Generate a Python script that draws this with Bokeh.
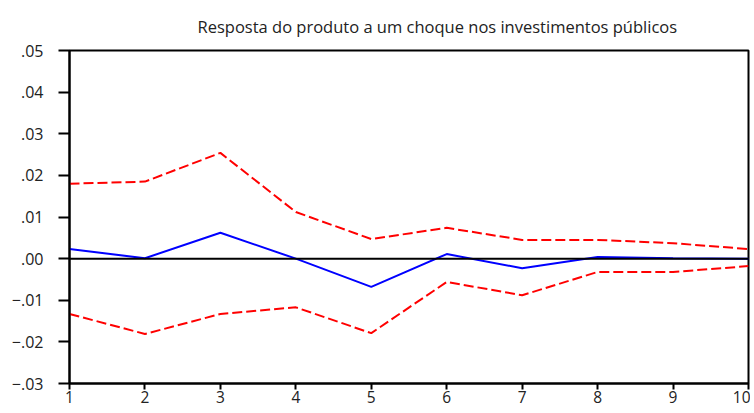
from bokeh.plotting import figure
from bokeh.models import Range1d, FixedTicker, Span, Title
from bokeh.embed import file_html
from bokeh.resources import INLINE

periods = [1, 2, 3, 4, 5, 6, 7, 8, 9, 10]
response = [0.0023, 0.0001, 0.0062, 0.0000, -0.0068, 0.0011, -0.0023, 0.0004, 0.0001, 0.0000]
upper = [0.0180, 0.0185, 0.0254, 0.0112, 0.0047, 0.0074, 0.0045, 0.0045, 0.0037, 0.0023]
lower = [-0.0133, -0.0181, -0.0133, -0.0117, -0.0179, -0.0056, -0.0088, -0.0032, -0.0032, -0.0018]
y_ticks = [-0.03, -0.02, -0.01, 0.0, 0.01, 0.02, 0.03, 0.04, 0.05]
y_labels = ["\u2212.03", "\u2212.02", "\u2212.01", ".00", ".01", ".02", ".03", ".04", ".05"]
title_text = "Resposta do produto a um choque nos investimentos públicos"

FONT = "Open Sans"

p = figure(width=750, height=410, output_backend="svg", toolbar_location=None,
           x_range=Range1d(1, 10), y_range=Range1d(-0.03, 0.05),
           min_border_left=69, min_border_right=2, min_border_bottom=27, min_border_top=12)

p.title = Title(text=title_text, align="left", offset=128, text_font=FONT,
                text_font_size="16.5px", text_font_style="normal", text_color="#222222",
                standoff=25)

p.xgrid.visible = False
p.ygrid.visible = False
p.outline_line_color = "black"
p.outline_line_width = 2
p.background_fill_color = "white"
p.border_fill_color = "white"

for ax in (p.xaxis[0], p.yaxis[0]):
    ax.axis_line_width = 2
    ax.major_tick_line_width = 2
    ax.major_tick_in = 0
    ax.minor_tick_line_color = None
    ax.major_label_text_font = FONT
    ax.major_label_text_color = "#222222"

p.xaxis.ticker = FixedTicker(ticks=periods)
p.xaxis.major_tick_out = 6
p.xaxis.major_label_standoff = 1
p.xaxis.major_label_text_font_size = "15.5px"
p.yaxis.ticker = FixedTicker(ticks=y_ticks)
p.yaxis.major_label_overrides = {t: l for t, l in zip(y_ticks, y_labels)}
p.yaxis.major_tick_out = 11
p.yaxis.major_label_standoff = 15
p.yaxis.major_label_text_font_size = "16px"

p.add_layout(Span(location=0, dimension="width", line_color="black", line_width=2))

p.line(periods, upper, line_color="#FF0000", line_width=2, line_dash="10 4")
p.line(periods, lower, line_color="#FF0000", line_width=2, line_dash="10 4")
p.line(periods, response, line_color="#0000FF", line_width=2)

open("out.html", "w").write(file_html(p, INLINE))
